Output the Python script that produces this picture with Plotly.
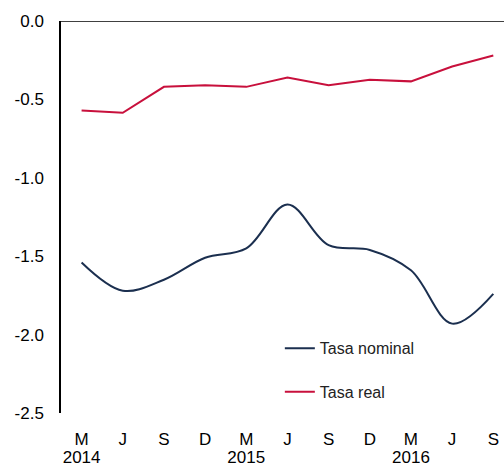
import plotly.graph_objects as go

categories = ["M14", "J14", "S14", "D14", "M15", "J15", "S15", "D15", "M16", "J16", "S16"]
month_labels = ["M", "J", "S", "D", "M", "J", "S", "D", "M", "J", "S"]
year_positions = [0, 4, 8]
year_labels = ["2014", "2015", "2016"]
tasa_nominal = [-1.54, -1.72, -1.65, -1.51, -1.45, -1.17, -1.43, -1.46, -1.59, -1.93, -1.74]
tasa_real = [-0.57, -0.585, -0.42, -0.41, -0.42, -0.36, -0.41, -0.375, -0.385, -0.29, -0.22]
y_ticks = [0.0, -0.5, -1.0, -1.5, -2.0, -2.5]
y_tick_labels = ["0.0", "-0.5", "-1.0", "-1.5", "-2.0", "-2.5"]

blue = "#1b2f4f"
red = "#c8103c"
font = "Liberation Sans, Arial, sans-serif"
x_range = [-0.5, 10.26]

fig = go.Figure()
fig.add_trace(go.Scatter(
    x=categories, y=tasa_nominal, mode="lines", name="Tasa nominal",
    line=dict(color=blue, width=2, shape="spline", smoothing=1.0),
    legend="legend",
))
fig.add_trace(go.Scatter(
    x=categories, y=tasa_real, mode="lines", name="Tasa real",
    line=dict(color=red, width=2),
    legend="legend2",
))
# empty helper trace so the year axis is drawn
fig.add_trace(go.Scatter(
    x=year_positions, y=[None] * len(year_positions), xaxis="x2", yaxis="y",
    mode="lines", showlegend=False, hoverinfo="skip",
))

fig.add_shape(type="line", xref="paper", yref="y", x0=0, x1=1, y0=0, y1=0,
              line=dict(color="black", width=1.5))

legend_common = dict(
    bgcolor="rgba(0,0,0,0)", borderwidth=0,
    font=dict(family=font, size=16, color="#222222"),
    xanchor="left", yanchor="middle", x=0.494,
)

fig.update_layout(
    width=504, height=467,
    margin=dict(l=61, r=0, t=21, b=54),
    paper_bgcolor="white", plot_bgcolor="white",
    font=dict(family=font, size=17, color="black"),
    showlegend=True,
    legend=dict(**legend_common, y=0.165),
    legend2=dict(**legend_common, y=0.054),
    xaxis=dict(
        type="category", categoryorder="array", categoryarray=categories,
        range=x_range, automargin=False,
        tickmode="array", tickvals=categories, ticktext=month_labels,
        showgrid=False, zeroline=False, showline=False, ticks="",
        ticklabelstandoff=14,
        tickfont=dict(family=font, size=17, color="black"),
    ),
    xaxis2=dict(
        overlaying="x", side="bottom", anchor="y",
        range=x_range, automargin=False,
        tickmode="array", tickvals=year_positions, ticktext=year_labels,
        showgrid=False, zeroline=False, showline=False, ticks="",
        ticklabelstandoff=32,
        tickfont=dict(family=font, size=17, color="black"),
    ),
    yaxis=dict(
        range=[-2.5, 0.0], automargin=False,
        tickmode="array", tickvals=y_ticks, ticktext=y_tick_labels,
        showgrid=False, zeroline=False,
        showline=True, linecolor="black", linewidth=1.5,
        ticks="", ticklabelstandoff=12,
        tickfont=dict(family=font, size=17, color="black"),
    ),
)

# remove the browser's default page margin so the figure fills the window exactly
fig.write_html(
    "out.html",
    config={"displayModeBar": False},
    post_script="document.documentElement.style.margin='0';document.body.style.margin='0';document.body.style.overflow='hidden';",
)
